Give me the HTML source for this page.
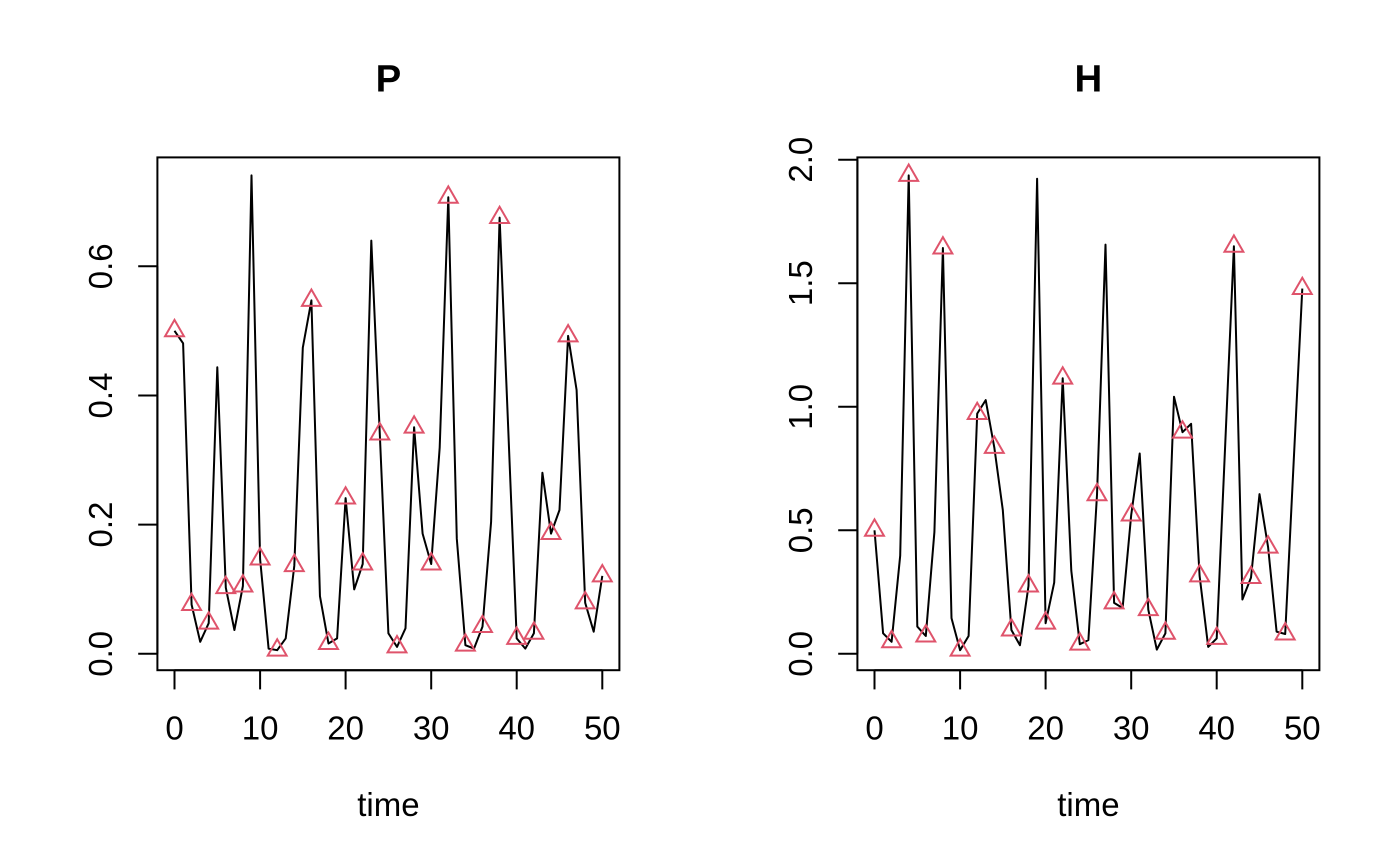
<!DOCTYPE html>
<html>
<head>
<meta charset="utf-8">
<style>
html,body{margin:0;padding:0;background:#fff;}
svg{display:block;}
text{font-family:"Liberation Sans",Arial,sans-serif;fill:#000;}
</style>
</head>
<body>
<svg width="1400" height="866" viewBox="0 0 1400 866" xmlns="http://www.w3.org/2000/svg">
<defs>
<path id="tri" d="M0,-10.9 L9.44,5.45 L-9.44,5.45 Z" fill="none" stroke="#DF536B" stroke-width="2"/>
</defs>
<rect x="0" y="0" width="1400" height="866" fill="#fff"/>

<!-- LEFT PANEL: P -->
<text x="388.4" y="91.7" font-size="38.4" font-weight="bold" text-anchor="middle">P</text>
<rect x="157.4" y="157.4" width="462" height="512.8" fill="none" stroke="#000" stroke-width="2"/>
<g stroke="#000" stroke-width="2">
<line x1="174.5" y1="670.2" x2="602.3" y2="670.2"/>
<line x1="174.5" y1="670.2" x2="174.5" y2="689.4"/>
<line x1="260.1" y1="670.2" x2="260.1" y2="689.4"/>
<line x1="345.6" y1="670.2" x2="345.6" y2="689.4"/>
<line x1="431.2" y1="670.2" x2="431.2" y2="689.4"/>
<line x1="516.7" y1="670.2" x2="516.7" y2="689.4"/>
<line x1="602.3" y1="670.2" x2="602.3" y2="689.4"/>
<line x1="157.4" y1="653.8" x2="157.4" y2="266.3"/>
<line x1="157.4" y1="653.8" x2="138.2" y2="653.8"/>
<line x1="157.4" y1="524.6" x2="138.2" y2="524.6"/>
<line x1="157.4" y1="395.5" x2="138.2" y2="395.5"/>
<line x1="157.4" y1="266.3" x2="138.2" y2="266.3"/>
</g>
<g font-size="33" text-anchor="middle">
<text x="174.5" y="739.3">0</text>
<text x="260.1" y="739.3">10</text>
<text x="345.6" y="739.3">20</text>
<text x="431.2" y="739.3">30</text>
<text x="516.7" y="739.3">40</text>
<text x="602.3" y="739.3">50</text>
<text transform="translate(112,653.8) rotate(-90)">0.0</text>
<text transform="translate(112,524.6) rotate(-90)">0.2</text>
<text transform="translate(112,395.5) rotate(-90)">0.4</text>
<text transform="translate(112,266.3) rotate(-90)">0.6</text>
<text x="388.4" y="816">time</text>
</g>
<polyline fill="none" stroke="#000" stroke-width="2" stroke-linejoin="round" points="
174.5,330.8 183.1,343.3 191.6,604.6 200.2,641.8 208.7,623.2 217.3,367.3 225.8,587.7 234.4,630 242.9,586 251.5,175.4
260.1,559 268.6,648.6 277.2,650.2 285.7,638.4 294.3,565.7 302.8,347.7 311.4,300.4 319.95,596.2 328.5,643.5 337.1,638.4
345.6,498.1 354.2,589.4 362.7,564 371.3,240.6 379.8,434 388.4,633.3 397.0,646.9 405.5,628.3 414.1,427.2 422.6,533.6
431.2,564 439.7,447.4 448.3,197.3 456.8,538.7 465.4,645.2 474.0,648.6 482.5,626.6 491.1,521.8 499.6,217.6 508.2,428
516.7,638.4 525.3,648.6 533.9,633.3 542.4,472.8 551.0,533.6 559.5,510 568.1,335.9 576.6,390 585.2,602.9 593.7,631.7 602.3,575.9"/>
<g>
<use href="#tri" transform="translate(174.5,330.8)"/>
<use href="#tri" transform="translate(191.6,604.6)"/>
<use href="#tri" transform="translate(208.7,623.2)"/>
<use href="#tri" transform="translate(225.8,587.7)"/>
<use href="#tri" transform="translate(242.9,586)"/>
<use href="#tri" transform="translate(260.1,559)"/>
<use href="#tri" transform="translate(277.2,650.2)"/>
<use href="#tri" transform="translate(294.3,565.7)"/>
<use href="#tri" transform="translate(311.4,300.4)"/>
<use href="#tri" transform="translate(328.5,643.5)"/>
<use href="#tri" transform="translate(345.6,498.1)"/>
<use href="#tri" transform="translate(362.7,564)"/>
<use href="#tri" transform="translate(379.8,434)"/>
<use href="#tri" transform="translate(397.0,646.9)"/>
<use href="#tri" transform="translate(414.1,427.2)"/>
<use href="#tri" transform="translate(431.2,564)"/>
<use href="#tri" transform="translate(448.3,197.3)"/>
<use href="#tri" transform="translate(465.4,645.2)"/>
<use href="#tri" transform="translate(482.5,626.6)"/>
<use href="#tri" transform="translate(499.6,217.6)"/>
<use href="#tri" transform="translate(516.7,638.4)"/>
<use href="#tri" transform="translate(533.9,633.3)"/>
<use href="#tri" transform="translate(551.0,533.6)"/>
<use href="#tri" transform="translate(568.1,335.9)"/>
<use href="#tri" transform="translate(585.2,602.9)"/>
<use href="#tri" transform="translate(602.3,575.9)"/>
</g>

<!-- RIGHT PANEL: H -->
<text x="1088.4" y="91.7" font-size="38.4" font-weight="bold" text-anchor="middle">H</text>
<rect x="857.4" y="157.4" width="462" height="512.8" fill="none" stroke="#000" stroke-width="2"/>
<g stroke="#000" stroke-width="2">
<line x1="874.5" y1="670.2" x2="1302.3" y2="670.2"/>
<line x1="874.5" y1="670.2" x2="874.5" y2="689.4"/>
<line x1="960.1" y1="670.2" x2="960.1" y2="689.4"/>
<line x1="1045.6" y1="670.2" x2="1045.6" y2="689.4"/>
<line x1="1131.2" y1="670.2" x2="1131.2" y2="689.4"/>
<line x1="1216.7" y1="670.2" x2="1216.7" y2="689.4"/>
<line x1="1302.3" y1="670.2" x2="1302.3" y2="689.4"/>
<line x1="857.4" y1="653.8" x2="857.4" y2="159.7"/>
<line x1="857.4" y1="653.8" x2="838.2" y2="653.8"/>
<line x1="857.4" y1="530.3" x2="838.2" y2="530.3"/>
<line x1="857.4" y1="406.8" x2="838.2" y2="406.8"/>
<line x1="857.4" y1="283.2" x2="838.2" y2="283.2"/>
<line x1="857.4" y1="159.7" x2="838.2" y2="159.7"/>
</g>
<g font-size="33" text-anchor="middle">
<text x="874.5" y="739.3">0</text>
<text x="960.1" y="739.3">10</text>
<text x="1045.6" y="739.3">20</text>
<text x="1131.2" y="739.3">30</text>
<text x="1216.7" y="739.3">40</text>
<text x="1302.3" y="739.3">50</text>
<text transform="translate(812,653.8) rotate(-90)">0.0</text>
<text transform="translate(812,530.3) rotate(-90)">0.5</text>
<text transform="translate(812,406.8) rotate(-90)">1.0</text>
<text transform="translate(812,283.2) rotate(-90)">1.5</text>
<text transform="translate(812,159.7) rotate(-90)">2.0</text>
<text x="1088.4" y="816">time</text>
</g>
<polyline fill="none" stroke="#000" stroke-width="2" stroke-linejoin="round" points="
874.5,530.3 883.1,633.3 891.6,641.8 900.2,555.6 908.7,175.4 917.3,626.6 925.8,636 934.4,532 942.9,248 951.5,618.1
960.1,650.2 968.6,636 977.2,413.6 985.7,400.1 994.3,447.4 1002.8,510 1011.4,630 1019.95,645.2 1028.5,586 1037.1,178.7
1045.6,623.2 1054.2,582.6 1062.7,378.2 1071.3,570.8 1079.8,644.2 1088.4,640.1 1097.0,494.8 1105.5,244.6 1114.1,602.9 1122.6,608
1131.2,515 1139.7,453.5 1148.3,609.7 1156.8,649.6 1165.4,633.3 1174.0,396.7 1182.5,432.2 1191.1,423.8 1199.6,575.9 1208.2,646.9
1216.7,638.4 1225.3,442.4 1233.9,246.3 1242.4,599.5 1251.0,577.6 1259.5,494.1 1268.1,547.2 1276.6,631.7 1285.2,634 1293.7,461.3 1302.3,288.6"/>
<g>
<use href="#tri" transform="translate(874.5,530.3)"/>
<use href="#tri" transform="translate(891.6,641.8)"/>
<use href="#tri" transform="translate(908.7,175.4)"/>
<use href="#tri" transform="translate(925.8,636)"/>
<use href="#tri" transform="translate(942.9,248)"/>
<use href="#tri" transform="translate(960.1,650.2)"/>
<use href="#tri" transform="translate(977.2,413.6)"/>
<use href="#tri" transform="translate(994.3,447.4)"/>
<use href="#tri" transform="translate(1011.4,630)"/>
<use href="#tri" transform="translate(1028.5,586)"/>
<use href="#tri" transform="translate(1045.6,623.2)"/>
<use href="#tri" transform="translate(1062.7,378.2)"/>
<use href="#tri" transform="translate(1079.8,644.2)"/>
<use href="#tri" transform="translate(1097.0,494.8)"/>
<use href="#tri" transform="translate(1114.1,602.9)"/>
<use href="#tri" transform="translate(1131.2,515)"/>
<use href="#tri" transform="translate(1148.3,609.7)"/>
<use href="#tri" transform="translate(1165.4,633.3)"/>
<use href="#tri" transform="translate(1182.5,432.2)"/>
<use href="#tri" transform="translate(1199.6,575.9)"/>
<use href="#tri" transform="translate(1216.7,638.4)"/>
<use href="#tri" transform="translate(1233.9,246.3)"/>
<use href="#tri" transform="translate(1251.0,577.6)"/>
<use href="#tri" transform="translate(1268.1,547.2)"/>
<use href="#tri" transform="translate(1285.2,634)"/>
<use href="#tri" transform="translate(1302.3,288.6)"/>
</g>
</svg>
</body>
</html>
